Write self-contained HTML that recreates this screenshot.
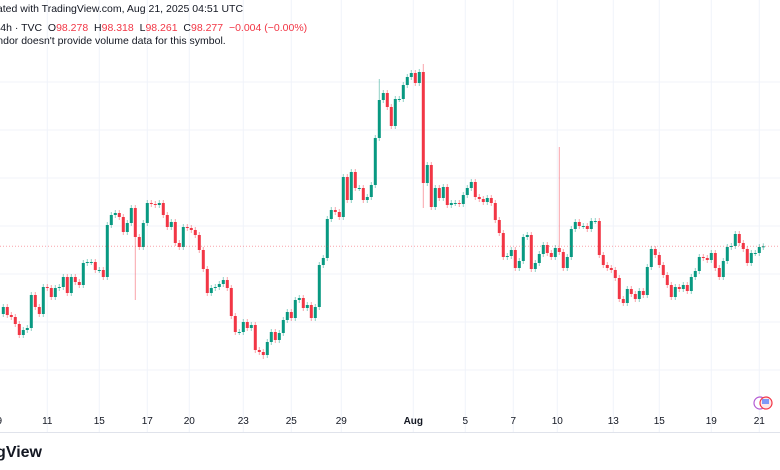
<!DOCTYPE html>
<html><head><meta charset="utf-8"><style>
html,body{margin:0;padding:0;background:#fff;width:780px;height:470px;overflow:hidden;font-family:"Liberation Sans",sans-serif}
svg{position:absolute;left:0;top:0}
</style></head><body>
<svg id="chart" width="780" height="470" viewBox="0 0 780 470">
  <g id="grid"></g>
  <g id="candles"></g>
  <line id="pline" x1="0" x2="780" stroke="#f23645" stroke-width="1" stroke-dasharray="1,2" opacity="0.45"/>
  <line x1="0" x2="780" y1="432.5" y2="432.5" stroke="#e0e3eb"/>
  <g id="xlabels" font-size="10" fill="#131722"></g>
  <text x="-20" y="12" font-size="10.5" fill="#131722">Created with TradingView.com, Aug 21, 2025 04:51 UTC</text>
  <text x="-12" y="31" font-size="10.5" fill="#131722" xml:space="preserve" style="white-space:pre">: · 4h · TVC  O<tspan fill="#f23645">98.278</tspan>  H<tspan fill="#f23645">98.318</tspan>  L<tspan fill="#f23645">98.261</tspan>  C<tspan fill="#f23645">98.277</tspan>  <tspan fill="#f23645">−0.004 (−0.00%)</tspan></text>
  <text x="-15" y="44" font-size="10.5" fill="#131722">Vendor doesn't provide volume data for this symbol.</text>
  <text x="42" y="457" text-anchor="end" font-size="16" font-weight="bold" fill="#131722">TradingView</text>
  <g>
    <circle cx="760" cy="403" r="6" fill="#fff" stroke="#b45bd4" stroke-width="1.2"/>
    <circle cx="766" cy="403" r="6" fill="#fde8ea" stroke="#f23645" stroke-width="1.2"/>
    <rect x="762" y="399" width="7" height="5" fill="#2962ff" opacity="0.6"/>
  </g>
</svg>
<script>
const closes=[97.67,97.59,97.57,97.50,97.39,97.44,97.46,97.79,97.67,97.60,97.87,97.86,97.77,97.86,97.87,97.97,97.81,97.97,97.92,97.89,98.11,98.12,98.12,98.04,98.04,97.97,98.49,98.59,98.61,98.57,98.42,98.51,98.66,98.37,98.27,98.51,98.71,98.70,98.69,98.71,98.59,98.47,98.52,98.31,98.27,98.47,98.46,98.44,98.39,98.24,98.05,97.81,97.86,97.87,97.90,97.94,97.86,97.58,97.42,97.42,97.52,97.46,97.49,97.24,97.22,
97.19,97.32,97.42,97.34,97.41,97.54,97.62,97.56,97.74,97.76,97.66,97.69,97.56,97.67,98.09,98.16,98.55,98.64,98.62,98.57,98.97,98.74,99.02,98.86,98.86,98.74,98.77,98.89,99.36,99.74,99.81,99.67,99.48,99.75,99.75,99.89,99.97,100.01,99.91,100.02,
98.91,99.09,98.67,98.86,98.76,98.87,98.69,98.71,98.71,98.70,98.79,98.86,98.92,98.77,98.75,98.72,98.76,98.71,98.54,98.41,98.17,98.18,98.24,98.06,98.13,98.37,98.39,98.05,98.11,98.20,98.29,98.21,98.17,98.26,98.22,98.06,98.17,98.45,98.52,98.48,98.48,98.45,98.53,98.53,98.19,98.09,98.06,98.04,97.96,97.75,97.71,97.85,97.80,97.75,97.83,97.79,98.07,98.25,98.19,98.09,97.99,97.89,97.77,97.87,97.85,97.89,97.83,97.97,98.03,98.17,98.16,98.14,98.21,98.06,97.97,98.13,98.27,98.28,98.40,98.31,98.25,98.11,98.21,98.21,98.27,98.277];
const firstOpen=97.60;
const spikeHighIdx=[139,105,94];
const spikeHighVal=[99.27,100.10,99.95];
const spikeLowIdx=[33,105,65];
const spikeLowVal=[97.74,98.66,97.15];
const lastPrice=98.277;
const tickLabels=["9","11","15","17","20","23","25","29","Aug","5","7","10","13","15","19","21"];
const tickIndex=[-1,11,24,36,46.5,60,72,84.5,102.5,115.5,127.5,138.5,152.5,164,177,189];
const gridPrices=[99.92,99.44,98.96,98.48,98.00,97.52,97.04];

const NS="http://www.w3.org/2000/svg";
function xS(i){return 3.3+4*i;}
function yS(p){return (100.74-p)*100;}
function mk(t,a,parent){const e=document.createElementNS(NS,t);for(const k in a)e.setAttribute(k,a[k]);parent.appendChild(e);return e;}
const grid=document.getElementById('grid');
gridPrices.forEach(p=>{
  const l=mk('line',{x1:0,x2:780,y1:yS(p),y2:yS(p),stroke:'#f0f3fa'},grid);
  
  
});
const xl=document.getElementById('xlabels');
tickLabels.forEach((t,k)=>{
  const x=xS(tickIndex[k]);
  const l=mk('line',{x1:x,x2:x,y1:0,y2:432,stroke:'#f0f3fa'},grid);
  
  
  const tx=mk('text',{x:x,y:424,'text-anchor':'middle','font-weight':t==='Aug'?'bold':'normal'},xl);
  tx.textContent=t;
  
  
});
const cg=document.getElementById('candles');
closes.forEach((c,i)=>{
  const o=i===0?firstOpen:closes[i-1];
  let hi=Math.max(o,c)+0.03, lo=Math.min(o,c)-0.03;
  spikeHighIdx.forEach((k,j)=>{if(k===i)hi=Math.max(hi,spikeHighVal[j]);});
  spikeLowIdx.forEach((k,j)=>{if(k===i)lo=Math.min(lo,spikeLowVal[j]);});
  const up=c>=o, col=up?'#089981':'#f23645';
  const x=xS(i);
  const g=mk('g',{},cg);
  
  
  mk('line',{x1:x,x2:x,y1:yS(hi),y2:yS(lo),stroke:col,'stroke-width':1,opacity:0.45},g);
  const top=yS(Math.max(o,c)),bh=Math.max(1,yS(Math.min(o,c))-top);
  mk('rect',{x:x-1.5,y:top,width:3,height:bh,fill:col},g);
});
const pl=document.getElementById('pline');
pl.setAttribute('y1',yS(lastPrice));pl.setAttribute('y2',yS(lastPrice));
</script>
</body></html>
